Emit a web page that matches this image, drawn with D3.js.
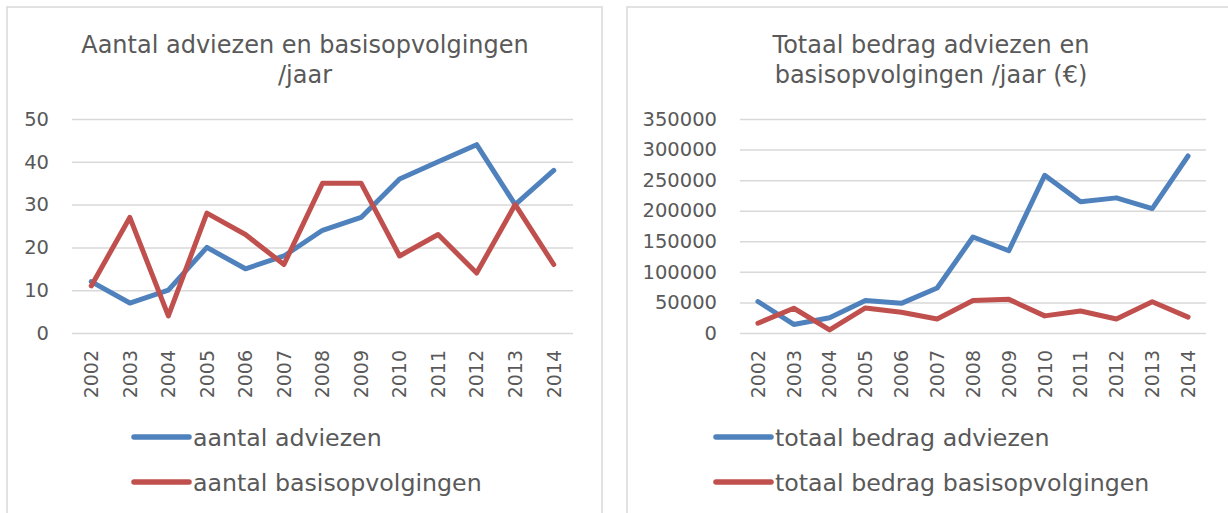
<!DOCTYPE html>
<html>
<head>
<meta charset="utf-8">
<script src="https://cdn.jsdelivr.net/npm/d3@7"></script>
<style>
  html, body { margin: 0; padding: 0; background: #ffffff; }
  svg { display: block; }
  text { font-family: "DejaVu Sans", Verdana, sans-serif; fill: #595959; }
</style>
</head>
<body>
<svg id="chart" width="1228" height="513"></svg>
<script>
const years = ["2002","2003","2004","2005","2006","2007","2008","2009","2010","2011","2012","2013","2014"];

const aantalAdviezen = [12, 7, 10, 20, 15, 18, 24, 27, 36, 40, 44, 30, 38];
const aantalBasis    = [11, 27, 4, 28, 23, 16, 35, 35, 18, 23, 14, 30, 16];
const leftTicks = [0, 10, 20, 30, 40, 50];

const bedragAdviezen = [51500, 14000, 25000, 53000, 48500, 73500, 157000, 134500, 258000, 214500, 221000, 203500, 289500];
const bedragBasis    = [16000, 40500, 5000, 41000, 34000, 23000, 53000, 55000, 28000, 36000, 23000, 51000, 26000];
const rightTicks = [0, 50000, 100000, 150000, 200000, 250000, 300000, 350000];

const leftTitle = ["Aantal adviezen en basisopvolgingen", "/jaar"];
const rightTitle = ["Totaal bedrag adviezen en", "basisopvolgingen /jaar (\u20AC)"];
const leftNames = ["aantal adviezen", "aantal basisopvolgingen"];
const rightNames = ["totaal bedrag adviezen", "totaal bedrag basisopvolgingen"];

const BLUE = "#4F81BD", RED = "#C0504D", GRID = "#D9D9D9";

const svg = d3.select("#chart");

function panel(cfg) {
  const g = svg.append("g");
  // border
  g.append("rect")
    .attr("x", cfg.box[0]).attr("y", cfg.box[1])
    .attr("width", cfg.box[2]).attr("height", cfg.box[3])
    .attr("fill", "#fff").attr("stroke", GRID).attr("stroke-width", 1.5);

  // title
  cfg.title.forEach((t, i) => {
    g.append("text")
      .attr("x", cfg.titleX).attr("y", 53 + i * 30)
      .attr("text-anchor", "middle")
      .style("font-size", "24px")
      .text(t);
  });

  const x = d3.scaleBand().domain(years).range([cfg.x0, cfg.x1]);
  const y = d3.scaleLinear().domain([0, cfg.ymax]).range([333, 119]);

  // y axis + gridlines
  const ya = g.append("g").attr("transform", `translate(${cfg.x0},0)`)
    .call(d3.axisLeft(y).tickValues(cfg.ticks).tickSize(-(cfg.x1 - cfg.x0)).tickPadding(23).tickFormat(d3.format("d")));
  ya.select(".domain").remove();
  ya.selectAll(".tick line").attr("stroke", GRID).attr("stroke-width", 1.5);
  ya.selectAll(".tick text").style("font-size", "19.5px").attr("fill", "#595959")
    .style("font-family", "'DejaVu Sans', Verdana, sans-serif");

  // x axis labels
  const xa = g.append("g").attr("transform", `translate(0,333)`)
    .call(d3.axisBottom(x).tickSize(0));
  xa.select(".domain").remove();
  xa.selectAll(".tick text")
    .style("font-size", "19px").attr("fill", "#595959")
    .style("font-family", "'DejaVu Sans', Verdana, sans-serif")
    .attr("transform", "rotate(-90)")
    .attr("text-anchor", "end")
    .attr("x", -17).attr("y", 0).attr("dy", "0.36em");

  const line = d3.line().x((d, i) => x(years[i]) + x.bandwidth() / 2).y(d => y(d));
  [[cfg.s1, BLUE], [cfg.s2, RED]].forEach(([s, c]) => {
    g.append("path").datum(s).attr("d", line)
      .attr("fill", "none").attr("stroke", c).attr("stroke-width", 5)
      .attr("stroke-linejoin", "round").attr("stroke-linecap", "round");
  });

  // legend
  [[cfg.names[0], BLUE, 437], [cfg.names[1], RED, 482]].forEach(([n, c, ly]) => {
    g.append("line").attr("x1", cfg.legX).attr("x2", cfg.legX + 55)
      .attr("y1", ly).attr("y2", ly)
      .attr("stroke", c).attr("stroke-width", 5.5).attr("stroke-linecap", "round");
    g.append("text").attr("x", cfg.legX + 59).attr("y", ly).attr("dy", "0.36em")
      .style("font-size", "23.7px").text(n);
  });
}

panel({
  box: [7, 7, 595, 520], titleX: 305, title: leftTitle,
  x0: 72, x1: 573, ymax: 50, ticks: leftTicks,
  s1: aantalAdviezen, s2: aantalBasis, names: leftNames, legX: 134
});
panel({
  box: [627, 7, 620, 520], titleX: 931, title: rightTitle,
  x0: 740, x1: 1206, ymax: 350000, ticks: rightTicks,
  s1: bedragAdviezen, s2: bedragBasis, names: rightNames, legX: 716
});
</script>
</body>
</html>
